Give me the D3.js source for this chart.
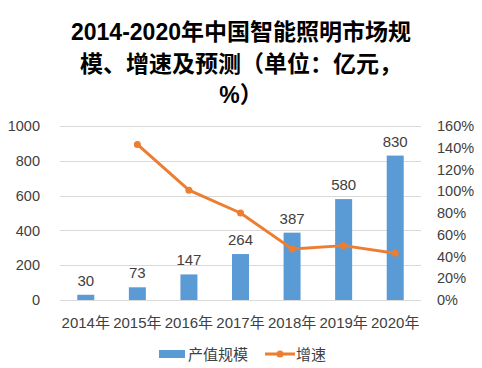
<!DOCTYPE html>
<html><head><meta charset="utf-8">
<script src="https://cdn.jsdelivr.net/npm/d3@7"></script>
<style>body{margin:0;background:#fff}svg{display:block}</style>
</head><body>
<script>
const categories = ["2014年","2015年","2016年","2017年","2018年","2019年","2020年"];
const marketSize = [30,73,147,264,387,580,830];
const growth = [null,143,101,80,47,50,43];
const leftTicks = [0,200,400,600,800,1000];
const rightTicks = [0,20,40,60,80,100,120,140,160];
const titleLines = ["2014-2020年中国智能照明市场规","模、增速及预测（单位：亿元，","%）"];
const seriesNames = ["产值规模","增速"];

const W=482,H=368;
const svg=d3.select("body").append("svg").attr("width",W).attr("height",H);
const font="'Liberation Sans','Noto Sans CJK SC',sans-serif";
const m={l:60,r:61,t:126,b:68};
const x=d3.scaleBand().domain(categories).range([m.l,W-m.r]).paddingInner(0).paddingOuter(0);
const yL=d3.scaleLinear().domain([0,1000]).range([H-m.b,m.t]);
const yR=d3.scaleLinear().domain([0,160]).range([H-m.b,m.t]);

// title
svg.append("g").selectAll("text").data(titleLines).join("text")
  .attr("x",W/2).attr("y",(d,i)=>40+i*31.5).attr("text-anchor","middle")
  .attr("font-family",font).attr("font-weight","bold").attr("font-size",23).attr("fill","#000").text(d=>d);

// gridlines
svg.append("g").selectAll("line").data(leftTicks).join("line")
  .attr("x1",m.l).attr("x2",W-m.r).attr("y1",d=>Math.round(yL(d))+0.5).attr("y2",d=>Math.round(yL(d))+0.5)
  .attr("stroke","#d9d9d9").attr("stroke-width",1);

// left axis
const gl=svg.append("g").attr("transform",`translate(${m.l-20},0)`)
  .call(d3.axisLeft(yL).tickValues(leftTicks).tickSize(0).tickPadding(0).tickFormat(d3.format("d")));
gl.select(".domain").remove();
gl.selectAll("text").attr("font-family",font).attr("font-size",14.5).attr("fill","#404040");

// right axis
const gr=svg.append("g").attr("transform",`translate(${W-m.r+16},0)`)
  .call(d3.axisRight(yR).tickValues(rightTicks).tickSize(0).tickPadding(0).tickFormat(d=>d+"%"));
gr.select(".domain").remove();
gr.selectAll("text").attr("font-family",font).attr("font-size",14.5).attr("fill","#404040");

// bars
const bw=17;
svg.append("g").selectAll("rect").data(marketSize).join("rect")
  .attr("x",(d,i)=>x(categories[i])+x.bandwidth()/2-bw/2).attr("width",bw)
  .attr("y",d=>yL(d)).attr("height",d=>yL(0)-yL(d)).attr("fill","#5B9BD5");

// bar labels
svg.append("g").selectAll("text").data(marketSize).join("text")
  .attr("x",(d,i)=>x(categories[i])+x.bandwidth()/2).attr("y",d=>yL(d)-9)
  .attr("text-anchor","middle").attr("font-family",font).attr("font-size",15).attr("fill","#404040").text(d=>d);

// x labels
svg.append("g").selectAll("text").data(categories).join("text")
  .attr("x",d=>x(d)+x.bandwidth()/2).attr("y",H-m.b+28)
  .attr("text-anchor","middle").attr("font-family",font).attr("font-size",15).attr("fill","#404040").text(d=>d);

// line
const pts=growth.map((v,i)=>({v,c:categories[i]})).filter(d=>d.v!=null);
svg.append("path").datum(pts)
  .attr("d",d3.line().x(d=>x(d.c)+x.bandwidth()/2).y(d=>yR(d.v)))
  .attr("fill","none").attr("stroke","#ED7D31").attr("stroke-width",3).attr("stroke-linejoin","round");
svg.append("g").selectAll("circle").data(pts).join("circle")
  .attr("cx",d=>x(d.c)+x.bandwidth()/2).attr("cy",d=>yR(d.v)).attr("r",3.5).attr("fill","#ED7D31");

// legend
const lg=svg.append("g");
lg.append("rect").attr("x",159).attr("y",350).attr("width",26).attr("height",8).attr("fill","#5B9BD5");
lg.append("text").attr("x",188).attr("y",360).attr("font-family",font).attr("font-size",15).attr("fill","#404040").text(seriesNames[0]);
lg.append("line").attr("x1",265).attr("x2",295).attr("y1",354).attr("y2",354).attr("stroke","#ED7D31").attr("stroke-width",3);
lg.append("circle").attr("cx",280).attr("cy",354).attr("r",3.5).attr("fill","#ED7D31");
lg.append("text").attr("x",296).attr("y",360).attr("font-family",font).attr("font-size",15).attr("fill","#404040").text(seriesNames[1]);
</script>
</body></html>
